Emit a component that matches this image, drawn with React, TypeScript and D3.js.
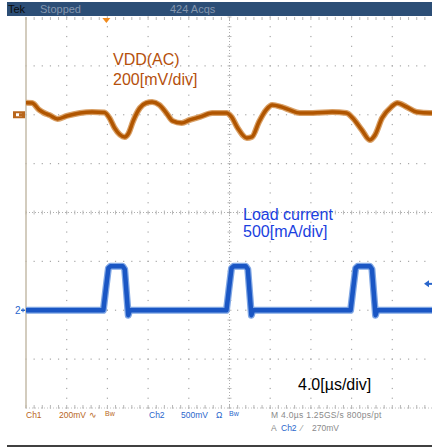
import React from "react";
import * as d3 from "d3";

// Ch1: VDD (AC), time in µs, value in mV
const ch1Time = [-20.0,-19.4,-18.7,-18.2,-17.7,-16.9,-16.0,-14.7,-13.5,-12.3,-11.8,-11.3,-10.3,-9.9,-9.5,-8.8,-8.2,-7.6,-6.9,-6.2,-5.6,-4.7,-3.9,-2.9,-1.7,-0.3,0.2,0.8,1.7,2.2,2.9,3.6,4.2,5.1,5.9,6.9,8.2,10.1,11.5,12.1,13.0,13.8,14.3,15.0,15.9,16.5,17.4,18.4,19.7,20];
const ch1mV = [49,48,20,7,-1,-17,-5,7,11,9,-13,-54,-91,-74,-29,28,48,52,40,7,-25,-34,-21,-9,7,7,-9,-54,-95,-91,-29,20,40,32,20,7,7,11,7,-13,-62,-103,-83,-13,32,48,32,11,7,7];

// Ch2: load current, time in µs, value in mA
const ch2Time = [-20,-12.4,-12.15,-11.9,-11.7,-10.5,-10.3,-10.1,-9.95,-9.8,-0.3,-0.05,0.2,0.4,1.6,1.8,2.0,2.15,2.3,11.9,12.15,12.4,12.6,13.8,14.0,14.2,14.35,14.5,20];
const ch2mA = [0,0,220,430,450,450,420,150,-50,0,0,220,430,450,450,420,150,-50,0,0,220,430,450,450,420,150,-50,0,0];

const timeDomain = [-20, 20]; // µs, 4 µs/div
const ch1Domain = [-1200, 400]; // mV, 200 mV/div
const ch2Domain = [-1000, 3000]; // mA, 500 mA/div
const triggerTime = -12.1;
const triggerLevel = 270;

const bottomRow1 = [
  { x: 26, text: "Ch1", c: "#b8661c" },
  { x: 59, text: "200mV", c: "#b8661c" },
  { x: 149, text: "Ch2", c: "#2a66cc" },
  { x: 181, text: "500mV", c: "#2a66cc" },
];

const L = 26, R = 433, T = 17, B = 408;

export default function App() {
  const x = d3.scaleLinear().domain(timeDomain).range([L, R]);
  const y1 = d3.scaleLinear().domain(ch1Domain).range([B, T]);
  const y2 = d3.scaleLinear().domain(ch2Domain).range([B, T]);
  const divX = (R - L) / 10;
  const divY = (B - T) / 8;
  const cx = x(0);
  const cy = T + 4 * divY;

  const line1 = d3.line<number>().x((_, i) => x(ch1Time[i])).y((d) => y1(d)).curve(d3.curveMonotoneX);
  const line2 = d3.line<number>().x((_, i) => x(ch2Time[i])).y((d) => y2(d));

  const dots: JSX.Element[] = [];
  for (let i = 1; i <= 10; i++) {
    if (i === 5) continue;
    const gx = L + i * divX;
    for (let k = 0; k <= 40; k++) {
      dots.push(<rect key={`v${i}-${k}`} x={gx - 0.6} y={T + k * divY / 5 - 0.6} width={1.2} height={1.2} fill="#a8a8a8" />);
    }
  }
  for (let j = 1; j <= 8; j++) {
    if (j === 4) continue;
    const gy = T + j * divY;
    for (let k = 0; k <= 50; k++) {
      dots.push(<rect key={`h${j}-${k}`} x={L + k * divX / 5 - 0.6} y={gy - 0.6} width={1.2} height={1.2} fill="#a8a8a8" />);
    }
  }
  const ticks: JSX.Element[] = [];
  for (let k = 0; k <= 50; k++) {
    const tx = L + k * divX / 5;
    ticks.push(<line key={`tt${k}`} x1={tx} x2={tx} y1={T} y2={T + 3} stroke="#b8b8b8" />);
    ticks.push(<line key={`tb${k}`} x1={tx} x2={tx} y1={B - 3} y2={B} stroke="#b8b8b8" />);
    ticks.push(<line key={`tc${k}`} x1={tx} x2={tx} y1={cy - 2} y2={cy + 2} stroke="#b8b8b8" />);
  }
  for (let k = 0; k <= 40; k++) {
    const ty = T + k * divY / 5;
    ticks.push(<line key={`tv${k}`} x1={cx - 2} x2={cx + 2} y1={ty} y2={ty} stroke="#b8b8b8" />);
  }

  const tx = x(triggerTime);
  const ty = y2(triggerLevel);
  const g1 = y1(0);
  const g2 = y2(0);

  return (
    <svg width={432} height={448} style={{ position: "absolute", left: 0, top: 0, background: "#fff" }} fontFamily="'Liberation Sans', Arial, sans-serif">
      <rect x={0} y={0} width={432} height={448} fill="#fff" />
      <rect x={7} y={2} width={425} height={14} fill="#2c4e76" />
      <text x={8} y={13} fontSize={11} fill="#0a0a0a">Tek</text>
      <text x={40} y={13} fontSize={11} fill="#8496ae">Stopped</text>
      <text x={170} y={13} fontSize={11} fill="#8496ae">424 Acqs</text>

      {dots}
      {ticks}
      <line x1={cx} x2={cx} y1={T} y2={B} stroke="#b0b0b0" strokeDasharray="1 2" />
      <line x1={L} x2={R} y1={cy} y2={cy} stroke="#b0b0b0" strokeDasharray="1 2" />
      <line x1={L} x2={R} y1={B} y2={B} stroke="#c0c0c0" strokeDasharray="1 2" />
      <line x1={L} x2={L} y1={T} y2={B} stroke="#c4bba8" strokeWidth={1.5} />

      <path d={line1(ch1mV) || ""} fill="none" stroke="#d9a066" strokeWidth={6} strokeLinejoin="round" />
      <path d={line1(ch1mV) || ""} fill="none" stroke="#b05500" strokeWidth={3.5} strokeLinejoin="round" />

      <path d={line2(ch2mA) || ""} fill="none" stroke="#7fa6e4" strokeWidth={7} strokeLinejoin="round" />
      <path d={line2(ch2mA) || ""} fill="none" stroke="#1a56c4" strokeWidth={4.5} strokeLinejoin="round" />

      {/* trigger position marker */}
      <path d={`M${tx - 4},${T + 1} L${tx + 4},${T + 1} L${tx},${T + 6} Z`} fill="#f08a1c" />
      {/* trigger level arrow */}
      <path d={`M${424},${ty} L${429},${ty - 3.5} L${429},${ty + 3.5} Z`} fill="#2a66cc" />
      <line x1={428} x2={433} y1={ty} y2={ty} stroke="#2a66cc" strokeWidth={2} />
      {/* ch1 ground marker */}
      <rect x={13} y={g1 - 3.5} width={12} height={7} fill="#b8661c" />
      <rect x={16} y={g1 - 1.5} width={6} height={3} fill="#fff" />
      <rect x={19} y={g1 - 1.5} width={3} height={3} fill="#b8661c" />
      {/* ch2 ground marker */}
      <text x={15} y={g2 + 4} fontSize={10} fill="#2a66cc">2</text>
      <path d={`M${21},${g2} L${25},${g2}`} stroke="#2a66cc" strokeWidth={1.5} />
      <path d={`M${23},${g2 - 2} L${23},${g2 + 2}`} stroke="#2a66cc" strokeWidth={1} />

      <text x={113} y={65} fontSize={16} fill="#b5500c">VDD(AC)</text>
      <text x={113} y={85} fontSize={16} fill="#b5500c">200[mV/div]</text>
      <text x={243} y={220} fontSize={16} fill="#1a3fe0">Load current</text>
      <text x={243} y={237} fontSize={16} fill="#1a3fe0">500[mA/div]</text>
      <text x={298} y={390} fontSize={16} fill="#000">4.0[µs/div]</text>

      {bottomRow1.map((b) => (
        <text key={b.text} x={b.x} y={418} fontSize={8.5} fill={b.c}>{b.text}</text>
      ))}
      <text x={89} y={418} fontSize={8.5} fill="#b8661c">∿</text>
      <text x={105} y={416} fontSize={7} fill="#b8661c">Bw</text>
      <text x={216} y={418} fontSize={8.5} fill="#2a66cc">Ω</text>
      <text x={229} y={416} fontSize={7} fill="#2a66cc">Bw</text>
      <text x={271} y={418} fontSize={8.5} letterSpacing={0.3} fill="#8a8a8a">M 4.0µs 1.25GS/s  800ps/pt</text>
      <text x={271} y={431} fontSize={8.5} fill="#8a8a8a">A</text>
      <text x={281} y={431} fontSize={8.5} fill="#2a66cc">Ch2</text>
      <text x={301} y={431} fontSize={8.5} fill="#8a8a8a">⁄</text>
      <text x={312} y={431} fontSize={8.5} fill="#8a8a8a">270mV</text>

      <line x1={7} x2={432} y1={446} y2={446} stroke="#000" strokeWidth={1.5} />
    </svg>
  );
}
